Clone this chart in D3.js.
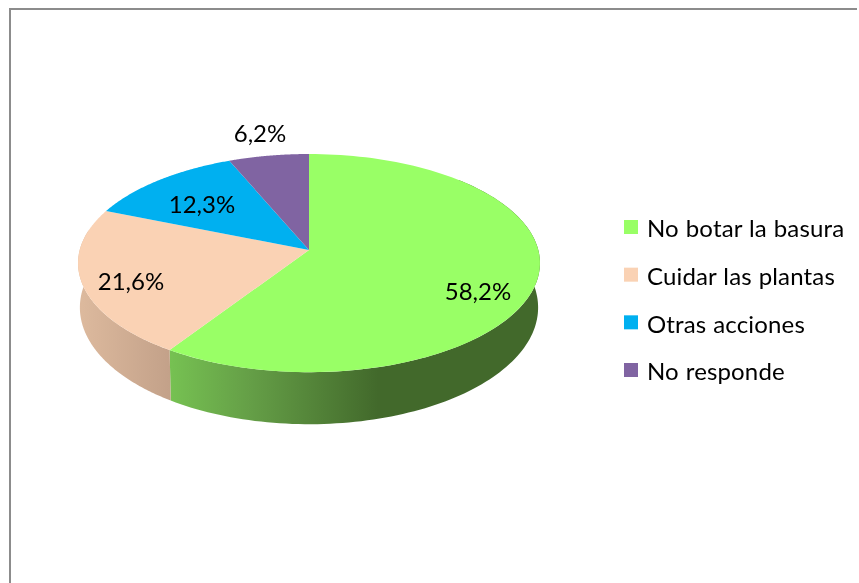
<!DOCTYPE html>
<html>
<head>
<meta charset="utf-8">
<script src="https://cdn.jsdelivr.net/npm/d3@7"></script>
<style>
html,body{margin:0;padding:0;background:#fff;overflow:hidden}
svg{display:block;filter:blur(0.45px)}
text{font-family:Lato,"Open Sans",sans-serif;fill:#000}
</style>
</head>
<body>
<svg id="c" width="859" height="583"></svg>
<script>
const categories = ["No botar la basura", "Cuidar las plantas", "Otras acciones", "No responde"];
const values = [58.2, 21.6, 12.3, 6.2];
const valueLabels = ["58,2%", "21,6%", "12,3%", "6,2%"];
const topColors = ["#99FF66", "#FAD2B4", "#00B0F0", "#8064A2"];

const W = 859, H = 583;
const svg = d3.select("#c");

// Frame
svg.append("path").attr("d", `M10,${H}V9H${W-2}`).attr("fill", "none").attr("stroke", "#8c8c8c").attr("stroke-width", 2);

// Perspective view of a disc
const cx = 309, topY = 250, bottomY = 293.5, Rx = 229.3, Ry = 107.5, k = 0.12;
function project(a, y0, sx, sy) {
  const u = Math.sin(a), v = -Math.cos(a), w = 1 - k * v;
  return [cx + sx * Rx * u / w, y0 + sy * Ry * v / w];
}
const topRim = a => project(a, topY, 1, 1);
const bottomRim = a => project(a, bottomY, 0.992, 1.07);
const slices = d3.pie().sort(null)(values);
const curve = d3.line().curve(d3.curveLinear);
const sample = (a0, a1) => d3.range(0, 121).map(i => a0 + (a1 - a0) * i / 120);

// Side wall gradients
const defs = svg.append("defs");
const x = d3.scaleLinear().domain([0, 1]).range([78, 540]);
function gradient(id, stops) {
  const g = defs.append("linearGradient").attr("id", id).attr("gradientUnits", "userSpaceOnUse")
    .attr("x1", x(0)).attr("x2", x(1)).attr("y1", 0).attr("y2", 0);
  stops.forEach(s => g.append("stop").attr("offset", s[0]).attr("stop-color", s[1]));
}
gradient("side0", [[0.2, "#76C152"], [0.37, "#659F47"], [0.65, "#42692B"], [1, "#42692B"]]);
gradient("side1", [[0, "#DDBA9E"], [0.2, "#C3A189"]]);

// Only the slices reaching the front have a visible wall
[0, 1].forEach(i => {
  const d = slices[i];
  const a0 = i === 0 ? d.startAngle + Math.PI / 4 : d.startAngle;
  const a1 = i === 0 ? d.endAngle : d.endAngle - 0.2;
  const pts = sample(a0, a1).map(topRim).concat(sample(a1, a0).map(bottomRim));
  svg.append("path").attr("d", curve(pts) + "Z").attr("fill", `url(#side${i})`);
});

// Top faces
slices.forEach((d, i) => {
  const pts = [[cx, topY]].concat(sample(d.startAngle, d.endAngle).map(topRim));
  svg.append("path").attr("d", curve(pts) + "Z").attr("fill", topColors[i]);
});

// Value labels
const labelAnchors = [[478, 300], [131, 290], [202, 213], [260, 142]];
svg.selectAll("text.v").data(valueLabels).join("text").attr("class", "v")
  .attr("x", (d, i) => labelAnchors[i][0]).attr("y", (d, i) => labelAnchors[i][1])
  .attr("text-anchor", "middle").attr("font-size", 24).text(d => d);

// Legend
const ly = d3.scalePoint().domain(categories).range([227, 370]);
const legend = svg.selectAll("g.l").data(categories).join("g").attr("class", "l")
  .attr("transform", d => `translate(624,${ly(d)})`);
legend.append("rect").attr("x", 0).attr("y", -7).attr("width", 14).attr("height", 14)
  .attr("fill", (d, i) => topColors[i]);
legend.append("text").attr("x", 23).attr("y", 10.2).attr("font-size", 24)
  .attr("letter-spacing", 0.15).attr("word-spacing", 0.6).text(d => d);
</script>
</body>
</html>
